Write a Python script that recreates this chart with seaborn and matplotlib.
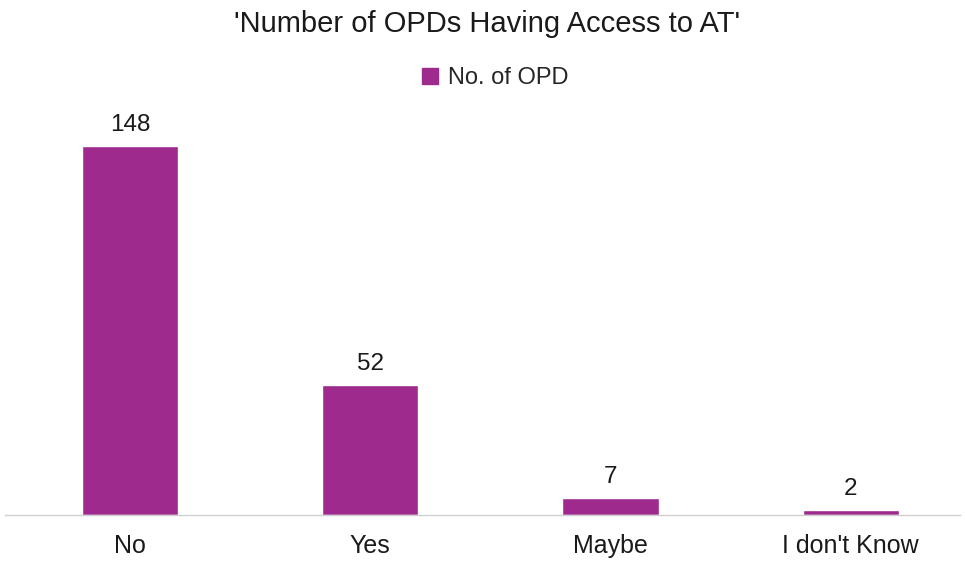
import matplotlib
matplotlib.use("Agg")
import matplotlib.pyplot as plt
import seaborn as sns
import pandas as pd

categories = ["No", "Yes", "Maybe", "I don't Know"]
counts = [148, 52, 7, 2]
series_name = "No. of OPD"
title = "'Number of OPDs Having Access to AT'"

sns.set_theme(style="white")
plt.rcParams["font.family"] = ["Liberation Sans", "DejaVu Sans"]

df = pd.DataFrame({"Response": categories, "Count": counts, "Series": series_name})

fig = plt.figure(figsize=(9.65, 5.62), dpi=100)
ax = fig.add_axes([0.005, 0.0836, 0.99, 0.71])

bar_color = "#9E2A8E"
sns.barplot(data=df, x="Response", y="Count", hue="Series", palette=[bar_color],
            width=0.4, ax=ax, legend=False, saturation=1)

for i, v in enumerate(counts):
    ax.text(i, v + 4, str(v), ha="center", va="bottom", fontsize=17.5, color="#1a1a1a")

ax.set_ylim(0, 160)
ax.set_xlim(-0.522, 3.456)
ax.set_xlabel("")
ax.set_ylabel("")
ax.set_yticks([])
ax.tick_params(axis="x", length=0, pad=14, labelsize=18, labelcolor="#1a1a1a")
for s in ["top", "left", "right"]:
    ax.spines[s].set_visible(False)
ax.spines["bottom"].set_color("#d0d0d0")
ax.spines["bottom"].set_linewidth(1.0)

fig.text(0.505, 0.958, title, ha="center", va="center", fontsize=21, color="#1a1a1a")

handle = plt.Rectangle((0, 0), 1, 1, color=bar_color)
fig.legend([handle], [series_name], loc="center", bbox_to_anchor=(0.513, 0.861),
           frameon=False, fontsize=17, handlelength=0.7, handleheight=0.7,
           handletextpad=0.4)

fig.savefig("out.png", dpi=100, facecolor="white")
